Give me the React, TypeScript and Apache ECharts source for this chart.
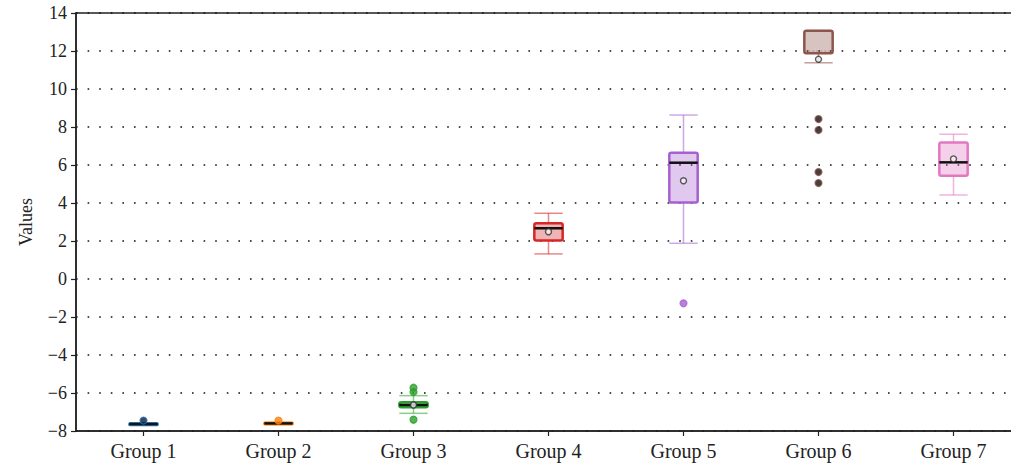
import React, { useEffect, useRef } from "react";
import * as echarts from "echarts";

// Group labels along the x axis
const categories = ["Group 1", "Group 2", "Group 3", "Group 4", "Group 5", "Group 6", "Group 7"];

// Five-number summaries: [lower whisker, Q1, median, Q3, upper whisker]
const boxStats: number[][] = [
  [-7.68, -7.66, -7.63, -7.6, -7.58],
  [-7.65, -7.63, -7.6, -7.57, -7.55],
  [-7.07, -6.75, -6.63, -6.49, -6.14],
  [1.32, 2.02, 2.67, 2.93, 3.46],
  [1.88, 4.03, 6.12, 6.65, 8.63],
  [11.38, 11.88, 12.0, 13.07, 13.07],
  [4.42, 5.44, 6.14, 7.19, 7.62],
];

// Group means (null where no marker is shown)
const means: (number | null)[] = [null, null, -6.63, 2.49, 5.17, 11.56, 6.32];

// Points beyond the whiskers
const outliers: number[][] = [
  [-7.45],
  [-7.45],
  [-5.72, -5.95, -7.4],
  [],
  [-1.28],
  [8.42, 7.84, 5.63, 5.05],
  [],
];

// Y-axis range and step
const yMin = -8;
const yMax = 14;
const yStep = 2;

const palette = ["#1f77b4", "#ff7f0e", "#2ca02c", "#d62728", "#a660cf", "#8c564b", "#e377c2"];
const outlierFill = ["#0d1b3a", "#ff7f0e", "#2ca02c", "#d62728", "#a660cf", "#1a0f0d", "#e377c2"];
const medianColor = ["#111", "#111", "#111", "#111", "#111", "rgba(160,110,100,0.6)", "#111"];

function hexToRgba(hex: string, a: number) {
  const n = parseInt(hex.slice(1), 16);
  return `rgba(${(n >> 16) & 255},${(n >> 8) & 255},${n & 255},${a})`;
}

const fmt = (v: number) => (v < 0 ? "\u2212" + Math.abs(v) : String(v));

export default function App() {
  const ref = useRef<HTMLDivElement>(null);

  useEffect(() => {
    if (!ref.current) return;
    document.body.style.overflow = "hidden";
    const chart = echarts.init(ref.current, undefined, { renderer: "svg" });
    const font = "'Liberation Serif', 'DejaVu Serif', serif";

    const boxData = boxStats.map((s, i) => [i, ...s]);
    const meanData = means
      .map((m, i) => (m === null ? null : [i, m]))
      .filter((d) => d !== null);
    const outlierData: any[] = [];
    outliers.forEach((arr, i) =>
      arr.forEach((v) =>
        outlierData.push({
          value: [i, v],
          itemStyle: { color: outlierFill[i], borderColor: palette[i], borderWidth: 1.2 },
        })
      )
    );

    const renderBox = (params: any, api: any) => {
      const idx = api.value(0);
      const lo = api.coord([idx, api.value(1)]);
      const q1 = api.coord([idx, api.value(2)]);
      const med = api.coord([idx, api.value(3)]);
      const q3 = api.coord([idx, api.value(4)]);
      const hi = api.coord([idx, api.value(5)]);
      const band = api.size([1, 0])[0];
      const half = band * 0.105;
      const x = lo[0];
      const c = palette[idx];
      const light = hexToRgba(c, 0.55);
      const boxH = Math.max(q1[1] - q3[1], 1.5);
      return {
        type: "group",
        children: [
          { type: "line", shape: { x1: x, y1: hi[1], x2: x, y2: q3[1] }, style: { stroke: light, lineWidth: 1.5 } },
          { type: "line", shape: { x1: x, y1: q1[1], x2: x, y2: lo[1] }, style: { stroke: light, lineWidth: 1.5 } },
          { type: "line", shape: { x1: x - half, y1: hi[1], x2: x + half, y2: hi[1] }, style: { stroke: light, lineWidth: 1.5 } },
          { type: "line", shape: { x1: x - half, y1: lo[1], x2: x + half, y2: lo[1] }, style: { stroke: light, lineWidth: 1.5 } },
          {
            type: "rect",
            shape: { x: x - half, y: q3[1], width: half * 2, height: boxH, r: 2 },
            style: { fill: hexToRgba(c, 0.35), stroke: c, lineWidth: 2.5 },
          },
          {
            type: "line",
            shape: { x1: x - half, y1: med[1], x2: x + half, y2: med[1] },
            style: {
              stroke: medianColor[idx],
              lineWidth: idx === 5 ? 1 : 2.5,
              lineDash: idx === 5 ? [2, 2] : undefined,
            },
          },
        ],
      };
    };

    chart.setOption({
      animation: false,
      grid: {
        left: 76,
        top: 13,
        right: 0,
        bottom: 40,
        show: true,
        borderColor: "#222",
        borderWidth: 1.5,
      },
      xAxis: {
        type: "category",
        data: categories,
        boundaryGap: true,
        axisLine: { show: true, onZero: false, lineStyle: { color: "#222", width: 1.5 } },
        axisTick: { show: true, alignWithLabel: true, length: 5, lineStyle: { color: "#222", width: 1.2 } },
        axisLabel: { color: "#222", fontFamily: font, fontSize: 20, margin: 10 },
        splitLine: { show: false },
      },
      yAxis: {
        type: "value",
        min: yMin,
        max: yMax,
        interval: yStep,
        name: "Values",
        nameLocation: "middle",
        nameGap: 41,
        nameTextStyle: { color: "#222", fontFamily: font, fontSize: 18 },
        axisLine: { show: true, lineStyle: { color: "#222", width: 1.5 } },
        axisTick: { show: true, length: 5, lineStyle: { color: "#222", width: 1.2 } },
        axisLabel: { color: "#222", fontFamily: font, fontSize: 18, margin: 9, formatter: fmt },
        splitLine: { show: true, lineStyle: { color: "#111", width: 1.6, type: [1.6, 10] } },
      },
      series: [
        {
          type: "custom",
          renderItem: renderBox,
          encode: { x: 0, y: [1, 2, 3, 4, 5] },
          data: boxData,
          z: 2,
        },
        {
          type: "scatter",
          data: outlierData,
          symbol: "circle",
          symbolSize: 7,
          z: 3,
        },
        {
          type: "scatter",
          data: meanData,
          symbol: "circle",
          symbolSize: 6,
          itemStyle: { color: "#f2f2f2", borderColor: "#333", borderWidth: 1.4 },
          z: 4,
        },
      ],
    });

    return () => chart.dispose();
  }, []);

  // The plot runs past the right edge of the window, so the frame is wider than the viewport
  return (
    <div
      ref={ref}
      style={{ position: "fixed", left: 0, top: 0, width: 1021, height: 471, background: "#fff" }}
    />
  );
}
